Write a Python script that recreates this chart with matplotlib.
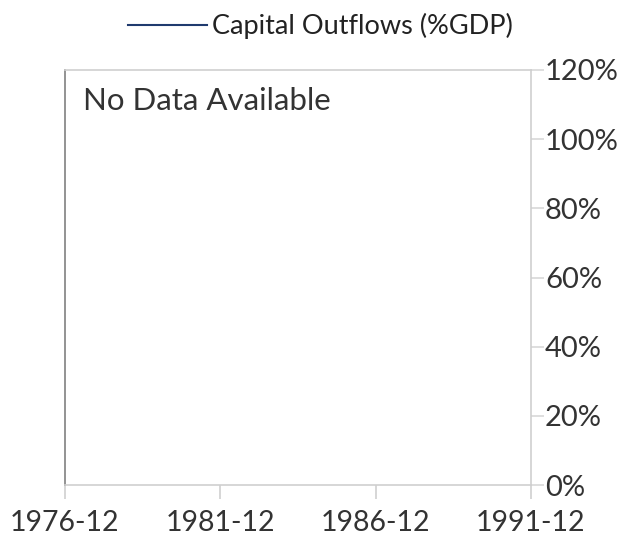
import numpy as np
import pandas as pd
import matplotlib
matplotlib.use("Agg")
import matplotlib.pyplot as plt
import matplotlib.dates as mdates
from matplotlib.ticker import FuncFormatter

plt.rcParams['font.family'] = ['Lato', 'DejaVu Sans']

# series (no data available)
dates = pd.to_datetime([])
outflows = np.array([])

x_start = "1976-12-01"
x_end = "1991-12-01"
x_ticks = ["1976-12-01", "1981-12-01", "1986-12-01", "1991-12-01"]
y_ticks = [0, 0.2, 0.4, 0.6, 0.8, 1.0, 1.2]

fig = plt.figure(figsize=(6.39, 5.44), dpi=100)
ax = fig.add_axes([65 / 639, 1 - 485 / 544, (531 - 65) / 639, (485 - 70) / 544])

ax.plot(dates, outflows, color="#1f3a6e", linewidth=1.5, label="Capital Outflows (%GDP)")

ax.set_xlim(pd.Timestamp(x_start), pd.Timestamp(x_end))
ax.set_xticks([pd.Timestamp(t) for t in x_ticks])
ax.xaxis.set_major_formatter(mdates.DateFormatter("%Y-%m"))
ax.set_ylim(0, 1.2)
ax.set_yticks(y_ticks)
ax.yaxis.set_major_formatter(FuncFormatter(lambda v, _: f"{v * 100:.0f}%"))
ax.yaxis.tick_right()

for side in ["top", "right", "bottom"]:
    ax.spines[side].set_color("#cfcfcf")
    ax.spines[side].set_linewidth(1.2)
ax.spines["left"].set_color("#8a8a8a")
ax.spines["left"].set_linewidth(1.3)

ax.tick_params(axis="x", length=10, width=1.2, color="#cfcfcf", labelsize=20.5,
               labelcolor="#333333", pad=8)
ax.tick_params(axis="y", length=9, width=1.2, color="#d8d8d8", labelsize=21,
               labelcolor="#333333", pad=1)

ax.text(0.038, 0.925, "No Data Available", transform=ax.transAxes, fontsize=22.5,
        color="#333333", ha="left", va="center")

fig.legend(loc="center", bbox_to_anchor=(0.502, 0.952), frameon=False,
           fontsize=19.5, handlelength=2.9, handletextpad=0.2,
           labelcolor="#222222")

fig.savefig("out.png", dpi=100)
